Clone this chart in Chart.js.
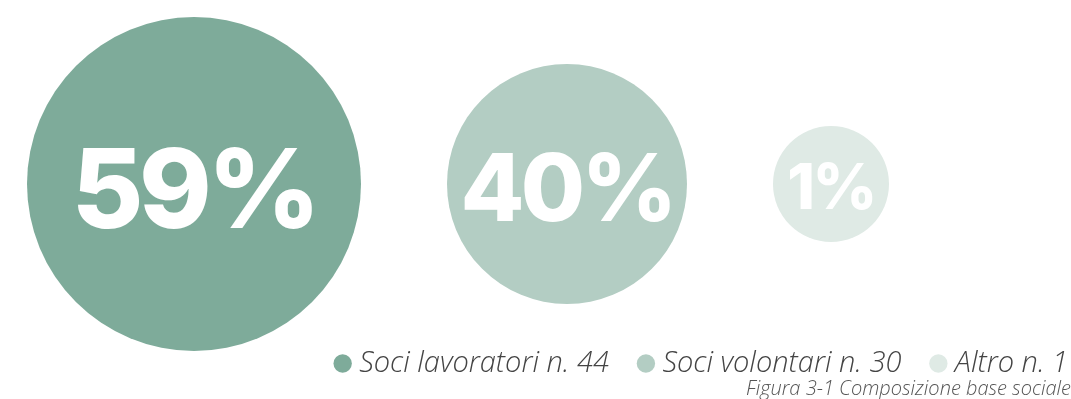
<!DOCTYPE html>
<html lang="it">
<head>
<meta charset="utf-8">
<script src="https://cdn.jsdelivr.net/npm/chart.js@4.4.1/dist/chart.umd.min.js"></script>
<style>
  html, body { margin: 0; padding: 0; background: #fff; }
  #wrap { width: 1071px; height: 399px; }
</style>
</head>
<body>
<div id="wrap"><canvas id="soci"></canvas></div>
<script>
// Composizione base sociale
const categories = ['Soci lavoratori', 'Soci volontari', 'Altro'];
const counts = [44, 30, 1];
const percents = [59, 40, 1];

const colors = ['#7eab9a', '#b3cdc3', '#dfeae5'];
const radii = [167, 120, 58];
const labelSizes = [110, 93, 63];
const gap = 86;
const leftEdge = 27;

// bubbles sit side by side with a fixed gap between them
const xs = [];
let cursor = leftEdge;
radii.forEach(r => { xs.push(cursor + r); cursor += 2 * r + gap; });

const datasets = categories.map((c, i) => ({
  label: `${c} n. ${counts[i]}`,
  data: [{ x: xs[i], y: 0, r: radii[i] }],
  backgroundColor: colors[i],
  borderWidth: 0,
  hoverRadius: 0,
  clip: false
}));

// white percentage inside every bubble
const percentLabels = {
  id: 'percentLabels',
  afterDatasetsDraw(chart) {
    const ctx = chart.ctx;
    chart.data.datasets.forEach((ds, i) => {
      const pt = chart.getDatasetMeta(i).data[0];
      const size = labelSizes[i];
      ctx.save();
      ctx.font = `800 ${size}px Inter`;
      ctx.letterSpacing = `${-0.04 * size}px`;
      ctx.fillStyle = '#ffffff';
      ctx.textAlign = 'center';
      ctx.textBaseline = 'middle';
      ctx.fillText(percents[i] + '%', pt.x, pt.y + size * 0.1);
      ctx.restore();
    });
  }
};

// legend row sits a little lower and flush with the right edge
const legendNudge = {
  id: 'legendNudge',
  afterLayout(chart) {
    const lg = chart.legend;
    lg.left += 32; lg.right += 32;
    lg.top += 16; lg.bottom += 16;
  }
};

new Chart(document.getElementById('soci'), {
  type: 'bubble',
  data: { datasets },
  plugins: [percentLabels, legendNudge],
  options: {
    responsive: true,
    maintainAspectRatio: false,
    animation: false,
    events: [],
    layout: { autoPadding: false, padding: { top: 70, left: 0, right: 0, bottom: 0 } },
    scales: {
      x: { type: 'linear', min: 0, max: 1071, display: false },
      y: { type: 'linear', min: -1, max: 1, display: false }
    },
    plugins: {
      tooltip: { enabled: false },
      legend: {
        position: 'bottom',
        align: 'end',
        labels: {
          usePointStyle: true,
          pointStyle: 'circle',
          boxWidth: 4,
          boxHeight: 13,
          padding: 35,
          color: '#444',
          font: { family: 'Open Sans', style: 'italic', weight: 300, size: 29 }
        }
      },
      title: {
        display: true,
        text: 'Figura 3-1 Composizione base sociale',
        position: 'bottom',
        align: 'end',
        color: '#555',
        padding: { top: 7, bottom: 0 },
        font: { family: 'Open Sans', style: 'italic', weight: 300, size: 20, lineHeight: 1 }
      }
    }
  }
});
</script>
</body>
</html>
